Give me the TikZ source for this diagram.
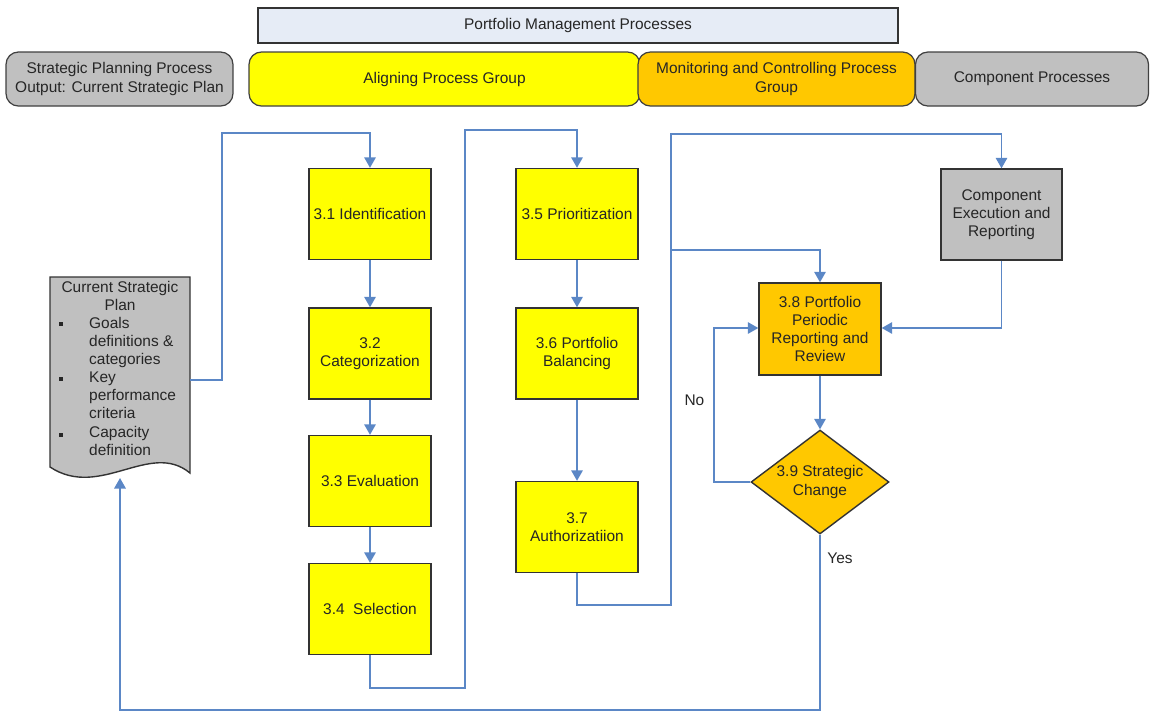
\documentclass[tikz,border=0pt]{standalone}
\usepackage{fontspec}
\setmainfont{Liberation Sans}
\usetikzlibrary{shapes.geometric,arrows.meta}
\definecolor{flow}{HTML}{5B87C6}
\definecolor{procyellow}{HTML}{FFFF00}
\definecolor{procorange}{HTML}{FFC800}
\definecolor{procgray}{HTML}{C0C0C0}
\definecolor{headblue}{HTML}{E6ECF6}
\tikzset{
  txt/.style={font=\fontsize{8.8}{10.3}\selectfont, align=center, text=black!85},
  header/.style={txt, draw=black!75, line width=0.7pt, rounded corners=7pt, minimum height=1.08cm, inner sep=1pt},
  procbox/.style={txt, draw=black!80, line width=0.8pt, minimum width=2.44cm, minimum height=1.82cm, inner sep=2pt},
  flowline/.style={draw=flow, line width=0.9pt},
  flowarrow/.style={flowline, -{Triangle[length=2.1mm,width=2.3mm]}},
}
\begin{document}
\begin{tikzpicture}[x=0.02cm,y=-0.02cm]
\useasboundingbox (0,0) rectangle (1151,711);

% header row
\node[txt, draw=black!80, fill=headblue, line width=0.8pt, minimum width=12.8cm, minimum height=0.7cm] (pm) at (578,25.5) {Portfolio Management Processes};
\node[header, fill=procgray, minimum width=4.54cm] (sp) at (119.5,79) {Strategic Planning Process\\Output: Current Strategic Plan};
\node[header, fill=procyellow, minimum width=7.82cm] (ag) at (444.5,79) {Aligning Process Group};
\node[header, fill=procorange, minimum width=5.54cm] (mc) at (776.5,79) {Monitoring and Controlling Process\\Group};
\node[header, fill=procgray, minimum width=4.66cm] (cp) at (1032,79) {Component Processes};

% current strategic plan (document shape)
\draw[draw=black!80, line width=0.8pt, fill=procgray]
  (50,277) -- (190,277) -- (190,473)
  .. controls (150,440) and (100,500) .. (50,467) -- cycle;
\coordinate (docR) at (190,380);
\coordinate (docB) at (120,478);
\node[txt, anchor=north] (doct) at (120,275) {Current Strategic\\Plan};
\node[txt, anchor=north west, align=left] (docl) at (83,311) {Goals\\definitions \&\\categories\\Key\\performance\\criteria\\Capacity\\definition};
\foreach \yy in {322,377,433} \fill[black!85] (59,\yy) rectangle (62.5,\yy+3.5);

% aligning processes
\node[procbox, fill=procyellow] (p31) at (370,214) {3.1 Identification};
\node[procbox, fill=procyellow] (p32) at (370,353.5) {3.2\\Categorization};
\node[procbox, fill=procyellow] (p33) at (370,481) {3.3 Evaluation};
\node[procbox, fill=procyellow] (p34) at (370,609) {3.4\ \ Selection};
\node[procbox, fill=procyellow] (p35) at (577,214) {3.5 Prioritization};
\node[procbox, fill=procyellow] (p36) at (577,353.5) {3.6 Portfolio\\Balancing};
\node[procbox, fill=procyellow] (p37) at (577,527) {3.7\\Authorizatiion};

% monitoring and component processes
\node[procbox, fill=procgray, minimum width=2.42cm] (ce) at (1001.5,214.5) {Component\\Execution and\\Reporting};
\node[procbox, fill=procorange, minimum height=1.84cm] (p38) at (820,329) {3.8 Portfolio\\Periodic\\Reporting and\\Review};
\node[txt, diamond, draw=black!80, line width=0.8pt, fill=procorange, minimum width=2.76cm, minimum height=2.08cm, aspect=1.33, inner sep=0pt] (p39) at (820,482) {3.9 Strategic\\Change};

% connectors
\draw[flowarrow] (docR) -- (222,380) -- (222,133) -- (370,133) -- (p31.north);
\draw[flowarrow] (p31) -- (p32);
\draw[flowarrow] (p32) -- (p33);
\draw[flowarrow] (p33) -- (p34);
\draw[flowarrow] (p34.south) -- (370,688) -- (465,688) -- (465,130) -- (577,130) -- (p35.north);
\draw[flowarrow] (p35) -- (p36);
\draw[flowarrow] (p36) -- (p37);
\draw[flowarrow] (p37.south) -- (577,605) -- (671,605) -- (671,134) -- (1001.5,134) -- (ce.north);
\draw[flowarrow] (671,250) -- (820,250) -- (p38.north);
\draw[flowarrow] (ce.south) -- (1001.5,328) -- (p38.east |- 0,328);
\draw[flowarrow] (p38) -- (p39);
\draw[flowarrow] (p39.west) -- (714,482) -- (714,328) -- (p38.west |- 0,328);
\draw[flowarrow] (p39.south) -- (820,710) -- (120,710) -- (docB);

% branch labels
\node[txt] (no) at (714,400) [left=2pt] {No};
\node[txt] (yes) at (840,558) {Yes};
\end{tikzpicture}
\end{document}
